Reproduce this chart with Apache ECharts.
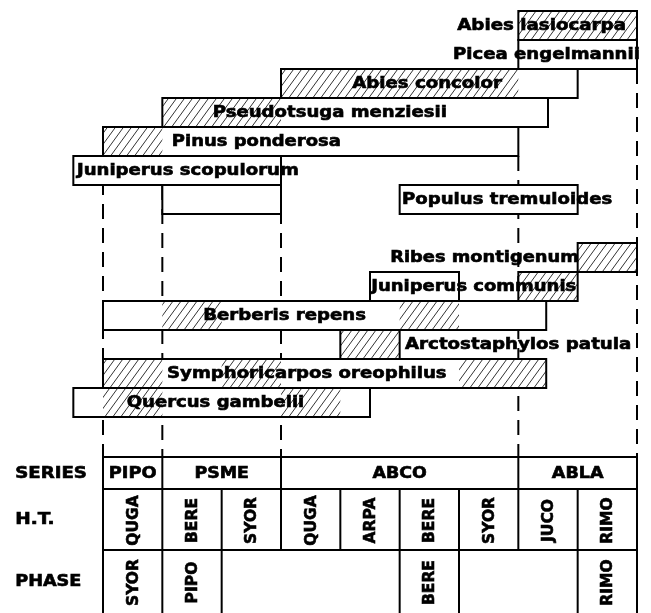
<!DOCTYPE html>
<html>
<head>
<meta charset="utf-8">
<script src="https://cdn.jsdelivr.net/npm/echarts@6/dist/echarts.min.js"></script>
<style>
  html, body { margin: 0; padding: 0; background: #fff; }
  #chart { width: 651px; height: 613px; }
</style>
</head>
<body>
<div id="chart"></div>
<script>
// x = habitat type column (0..9), y = row (0 at top)
// bars: one entry per box
const boxRows  = [0, 1, 2, 3, 4, 5, 6, 6, 8, 9, 9, 10, 11, 12, 13];
const boxStart = [7, 7, 3, 1, 0, -0.5, 1, 5, 8, 4.5, 7, 0, 4, 0, -0.5];
const boxEnd   = [9, 9, 8, 7.5, 7, 3, 3, 8, 9, 6, 8, 7.47, 5, 7.47, 4.5];

// hatched (indicator) parts of the bars
const hatchRows  = [0, 2, 3, 4, 8, 9, 10, 10, 11, 12, 12, 12, 13, 13];
const hatchStart = [7, 3, 1, 0, 8, 7, 1, 5, 4, 0, 2, 6, 0, 3];
const hatchEnd   = [9, 7, 3, 1, 9, 8, 2, 6, 5, 1, 3, 7.47, 1, 4];

// species names, their row and where the text starts
const speciesNames = ['Abies lasiocarpa', 'Picea engelmannii', 'Abies concolor',
  'Pseudotsuga menziesii', 'Pinus ponderosa', 'Juniperus scopulorum',
  'Populus tremuloides', 'Ribes montigenum', 'Juniperus communis',
  'Berberis repens', 'Arctostaphylos patula', 'Symphoricarpos oreophilus',
  'Quercus gambelii'];
const speciesRows = [0, 1, 2, 3, 4, 5, 6, 8, 9, 10, 11, 12, 13];
const speciesX = [5.97, 5.9, 4.2, 1.85, 1.16, -0.44, 5.04, 4.84, 4.52, 1.69, 5.09, 1.08, 0.4];

// dashed guide lines: column and row where they start
const dashX    = [0, 1, 3, 7, 9];
const dashFrom = [5, 6, 6, 5, 2];

// table at the bottom
const rowTitles   = ['SERIES', 'H.T.', 'PHASE'];
const seriesNames = ['PIPO', 'PSME', 'ABCO', 'ABLA'];
const seriesFrom  = [0, 1, 3, 7];
const seriesTo    = [1, 3, 7, 9];
const htNames     = ['QUGA', 'BERE', 'SYOR', 'QUGA', 'ARPA', 'BERE', 'SYOR', 'JUCO', 'RIMO'];
const phaseNames  = ['SYOR', 'PIPO', '', '', '', 'BERE', '', '', 'RIMO'];

// layout
const T = [15.38, 16.48, 18.59, 20.76];   // table row edges
const TITLE_X = -1.48;
const LABEL_FONT = 'bold 15px "DejaVu Sans"';
const CELL_FONT = 'bold 15px "DejaVu Sans"';
const VERT_FONT = 'bold 15px "DejaVu Sans"';

// fake letter spacing by stretching the text
const measureCtx = document.createElement('canvas').getContext('2d');
function spread(text, font, spacing) {
  measureCtx.font = font;
  const w = measureCtx.measureText(text).width;
  if (!w || text.length < 2) return 1;
  return (w + spacing * (text.length - 1)) / w;
}

function hatchPattern() {
  const c = document.createElement('canvas');
  c.width = 8; c.height = 11;
  const g = c.getContext('2d');
  g.strokeStyle = '#333';
  g.lineWidth = 1;
  g.beginPath();
  [-8, 0, 8].forEach(dx => { g.moveTo(dx, 11); g.lineTo(dx + 8, 0); });
  g.stroke();
  return { image: c, repeat: 'repeat' };
}
const hatch = hatchPattern();

// table lines
const tableLines = [];
[T[0], T[1], T[2]].forEach(y => tableLines.push([0, y, 9, y]));
seriesFrom.concat([seriesTo[seriesTo.length - 1]]).forEach(x => tableLines.push([x, T[0], x, T[1]]));
for (let c = 0; c <= htNames.length; c++) tableLines.push([c, T[1], c, T[2]]);
const phaseEdges = new Set();
phaseNames.forEach((n, c) => { if (n) { phaseEdges.add(c); phaseEdges.add(c + 1); } });
phaseEdges.forEach(x => tableLines.push([x, T[2], x, T[3]]));

// table texts: [text, x, y, vertical, align]
const tableTexts = [];
rowTitles.forEach((t, i) => tableTexts.push([t, TITLE_X, (T[i] + T[i + 1]) / 2, 0, 'left']));
seriesNames.forEach((t, i) => tableTexts.push([t, (seriesFrom[i] + seriesTo[i]) / 2, (T[0] + T[1]) / 2, 0, 'center']));
htNames.forEach((t, c) => tableTexts.push([t, c + 0.5, (T[1] + T[2]) / 2, 1, 'center']));
phaseNames.forEach((t, c) => { if (t) tableTexts.push([t, c + 0.5, (T[2] + T[3]) / 2, 1, 'center']); });

function rectItem(api, fill, stroke) {
  const a = api.coord([api.value(0), api.value(2)]);
  const b = api.coord([api.value(1), api.value(2) + 1]);
  return {
    type: 'rect',
    shape: { x: a[0], y: a[1], width: b[0] - a[0], height: b[1] - a[1] },
    style: { fill: fill, stroke: stroke, lineWidth: 2 }
  };
}

function textStyle(text, font, align) {
  return {
    text: text, font: font, fill: '#000', stroke: '#000', lineWidth: 0.6,
    textAlign: align, textVerticalAlign: 'middle'
  };
}

const chart = echarts.init(document.getElementById('chart'));

const option = {
  animation: false,
  backgroundColor: '#fff',
  grid: { left: 103, right: 14, top: 11, bottom: 0 },
  xAxis: { type: 'value', min: 0, max: 9, show: false },
  yAxis: { type: 'value', min: 0, max: 20.76, inverse: true, show: false },
  series: [
    {
      name: 'guides', type: 'custom', z: 1, silent: true,
      data: dashX.map((x, i) => [x, dashFrom[i]]),
      renderItem: (params, api) => {
        const a = api.coord([api.value(0), api.value(1)]);
        const b = api.coord([api.value(0), T[0]]);
        return {
          type: 'line',
          shape: { x1: a[0], y1: a[1], x2: b[0], y2: b[1] },
          style: { stroke: '#000', lineWidth: 2, lineDash: [15, 9] }
        };
      }
    },
    {
      name: 'boxFill', type: 'custom', z: 2, silent: true,
      data: boxRows.map((r, i) => [boxStart[i], boxEnd[i], r]),
      renderItem: (params, api) => rectItem(api, '#fff', 'none')
    },
    {
      name: 'hatch', type: 'custom', z: 3, silent: true,
      data: hatchRows.map((r, i) => [hatchStart[i], hatchEnd[i], r]),
      renderItem: (params, api) => rectItem(api, hatch, 'none')
    },
    {
      name: 'boxLine', type: 'custom', z: 4, silent: true,
      data: boxRows.map((r, i) => [boxStart[i], boxEnd[i], r]),
      renderItem: (params, api) => rectItem(api, 'none', '#000')
    },
    {
      name: 'species', type: 'custom', z: 5, silent: true,
      data: speciesNames.map((n, i) => [speciesX[i], speciesRows[i] + 0.5, i]),
      renderItem: (params, api) => {
        const p = api.coord([api.value(0), api.value(1)]);
        const text = speciesNames[api.value(2)];
        return {
          type: 'text', x: p[0], y: p[1] + 1,
          scaleX: spread(text, LABEL_FONT, 2),
          style: textStyle(text, LABEL_FONT, 'left')
        };
      }
    },
    {
      name: 'tableLines', type: 'custom', z: 4, silent: true,
      data: tableLines,
      renderItem: (params, api) => {
        const a = api.coord([api.value(0), api.value(1)]);
        const b = api.coord([api.value(2), api.value(3)]);
        return {
          type: 'line',
          shape: { x1: a[0], y1: a[1], x2: b[0], y2: b[1] },
          style: { stroke: '#000', lineWidth: 2 }
        };
      }
    },
    {
      name: 'tableText', type: 'custom', z: 5, silent: true,
      data: tableTexts.map((t, i) => [t[1], t[2], i]),
      renderItem: (params, api) => {
        const t = tableTexts[api.value(2)];
        const p = api.coord([api.value(0), api.value(1)]);
        const vertical = t[3] === 1;
        const font = vertical ? VERT_FONT : CELL_FONT;
        return {
          type: 'text', x: p[0] + (vertical ? 1 : 0), y: p[1] + 1,
          rotation: vertical ? Math.PI / 2 : 0,
          scaleX: spread(t[0], font, vertical ? 0.5 : 2.5),
          style: textStyle(t[0], font, t[4])
        };
      }
    }
  ]
};

chart.setOption(option);
</script>
</body>
</html>
